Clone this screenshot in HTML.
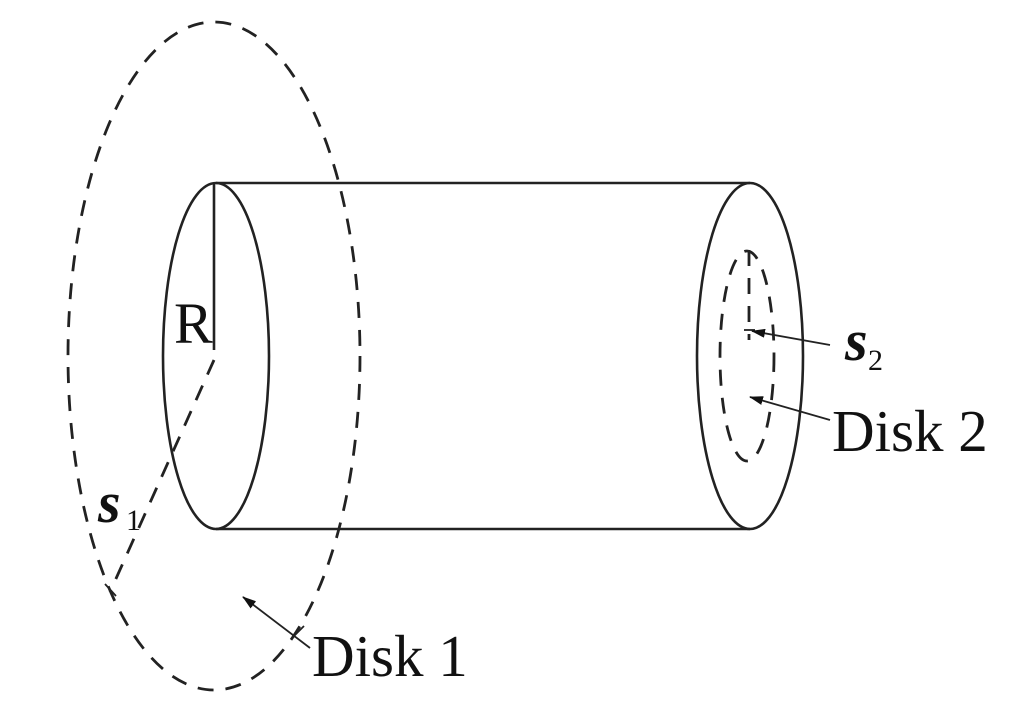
<!DOCTYPE html>
<html><head><style>html,body{margin:0;padding:0;background:#fff}</style></head>
<body>
<svg width="1026" height="714" viewBox="0 0 1026 714" xmlns="http://www.w3.org/2000/svg">
<defs><marker id="a" markerWidth="14" markerHeight="9" refX="13" refY="4.5" orient="auto" markerUnits="userSpaceOnUse"><path d="M0,0 L14,4.5 L0,9 Z" fill="#111"/></marker></defs>
<g fill="none" stroke="#222" stroke-width="2.6">
<ellipse cx="216" cy="356" rx="53" ry="173"/>
<ellipse cx="750" cy="356" rx="53" ry="173"/>
<line x1="216" y1="183" x2="750" y2="183"/>
<line x1="216" y1="529" x2="750" y2="529"/>
<line x1="214" y1="183" x2="214" y2="350"/>
</g>
<g fill="none" stroke="#222" stroke-width="2.8" stroke-dasharray="16,12">
<ellipse cx="214" cy="356" rx="146" ry="334"/>
<line x1="214" y1="360" x2="110" y2="592"/>
<ellipse cx="747" cy="356" rx="27" ry="105"/>
<line x1="749" y1="250" x2="749" y2="340"/>
</g>
<g stroke="#222" stroke-width="1.8">
<line x1="105" y1="584" x2="116" y2="596"/>
<line x1="744" y1="330" x2="755" y2="330"/>
<line x1="310" y1="648" x2="243" y2="597" marker-end="url(#a)"/>
<line x1="294" y1="636" x2="304" y2="626"/>
<line x1="830" y1="345" x2="752" y2="331" marker-end="url(#a)"/>
<line x1="830" y1="420" x2="750" y2="397" marker-end="url(#a)"/>
</g>
<g font-family="Liberation Serif, serif" fill="#111">
<text x="174" y="343" font-size="58">R</text>
<text x="98" y="522" font-size="58" font-style="italic" font-weight="bold">s</text>
<text x="126" y="530" font-size="30">1</text>
<text x="845" y="360" font-size="58" font-style="italic" font-weight="bold">s</text>
<text x="868" y="370" font-size="30">2</text>
<text x="832" y="451" font-size="59">Disk 2</text>
<text x="312" y="676" font-size="59">Disk 1</text>
</g>
</svg>
</body></html>
